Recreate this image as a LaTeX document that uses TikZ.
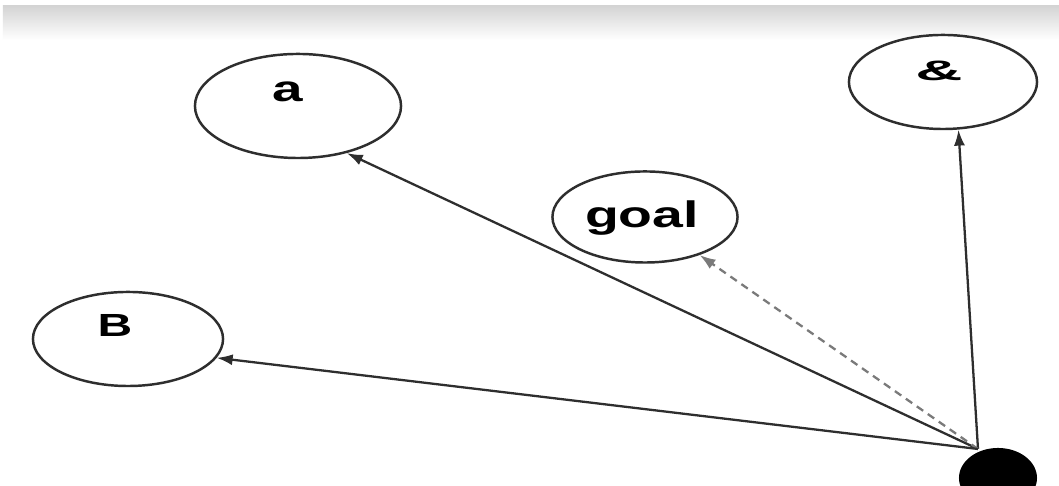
\documentclass[tikz,border=0pt]{standalone}
\usepackage{fontspec}
\newfontfamily\lblfont{Liberation Sans}[FakeStretch=1.5]
\usetikzlibrary{arrows.meta,shapes.geometric}
\definecolor{inkgray}{HTML}{2E2E2E}
\definecolor{bandgray}{HTML}{D4D4D4}
\definecolor{dashgray}{HTML}{7A7A7A}
\tikzset{
  statenode/.style={ellipse, draw=inkgray, line width=0.7pt, fill=white, inner sep=0pt},
  lbltext/.style={inner sep=0pt, font=\lblfont\bfseries\fontsize{#1}{12}\selectfont},
  lbltext/.default=10.5,
  arrow/.style={-{Latex[length=1.6mm,width=1.1mm]}, line width=0.65pt, draw=inkgray},
  dasharrow/.style={arrow, draw=dashgray, dash pattern=on 2.2pt off 1.6pt}
}
\begin{document}
\begin{tikzpicture}[x=0.01cm, y=-0.01cm]
  \clip (0,0) rectangle (1059,486);
  \fill[white] (0,0) rectangle (1059,486);
  \shade[top color=bandgray, bottom color=white] (3,6) rectangle (1059,40);
  \node[statenode, minimum width=2.06cm, minimum height=1.04cm,
    label={[lbltext=10.4, xshift=-0.1cm, yshift=0.14cm]center:a}] (a) at (298,106) {};
  \node[statenode, minimum width=1.88cm, minimum height=0.94cm,
    label={[lbltext=8, xshift=-0.04cm, yshift=0.11cm]center:\scalebox{1.55}[1]{\&}}] (amp) at (943,82) {};
  \node[statenode, minimum width=1.85cm, minimum height=0.91cm,
    label={[lbltext=10.5, xshift=-0.03cm, yshift=-0.01cm]center:goal}] (goal) at (645,217) {};
  \node[statenode, minimum width=1.9cm, minimum height=0.94cm,
    label={[lbltext=9.1, xshift=-0.13cm, yshift=0.13cm]center:B}] (b) at (128,339) {};
  \node[ellipse, fill=black, minimum width=0.78cm, minimum height=0.6cm] (dot) at (998,478) {};
  \coordinate (hub) at (978,449);
  \draw[arrow] (hub) -- (a.-44);
  \draw[arrow] (hub) -- (amp.-72);
  \draw[dasharrow] (hub) -- (goal);
  \draw[arrow] (hub) -- (b.-12);
\end{tikzpicture}
\end{document}
